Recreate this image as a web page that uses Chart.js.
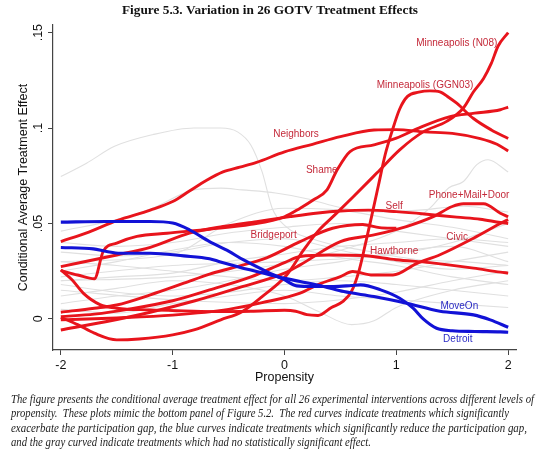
<!DOCTYPE html>
<html>
<head>
<meta charset="utf-8">
<script src="https://cdn.jsdelivr.net/npm/chart.js@4.4.1/dist/chart.umd.min.js"></script>
<style>
  html, body { margin: 0; padding: 0; background: #fff; }
  #wrap { width: 540px; height: 457px; }
</style>
</head>
<body>
<div id="wrap"><canvas id="gotvChart" width="540" height="457"></canvas></div>
<script>
// [propensity, treatment effect] pairs
const neighbors = [[-2, 0.0405], [-1.75, 0.0455], [-1.5, 0.0515], [-1.2, 0.057], [-1, 0.0615], [-0.85, 0.067], [-0.7, 0.0725], [-0.55, 0.077], [-0.4, 0.0795], [-0.25, 0.082], [0, 0.0875], [0.25, 0.0915], [0.5, 0.0955], [0.8, 0.099], [1, 0.0992], [1.25, 0.098], [1.5, 0.0972], [1.75, 0.0945], [1.9, 0.0915], [2, 0.088]];
const shame = [[-2, 0.0253], [-1.85, 0.023], [-1.7, 0.021], [-1.62, 0.0355], [-1.5, 0.0397], [-1.32, 0.0432], [-1.05, 0.0449], [-0.67, 0.047], [-0.3, 0.0495], [0, 0.0535], [0.14, 0.058], [0.26, 0.0624], [0.38, 0.0676], [0.47, 0.078], [0.586, 0.0877], [0.8, 0.0912], [1, 0.0947], [1.2, 0.1], [1.48, 0.106], [1.7, 0.1078], [1.93, 0.1096], [2, 0.111]];
const self = [[-2, 0.0274], [-1.5, 0.0335], [-1.2, 0.0375], [-0.85, 0.0449], [-0.55, 0.0484], [-0.25, 0.051], [0.05, 0.0536], [0.3, 0.0555], [0.5, 0.0565], [0.75, 0.057], [1, 0.0562], [1.25, 0.055], [1.54, 0.0533], [1.75, 0.0522], [1.93, 0.0505], [2, 0.05]];
const minneapolisGGN03 = [[-2, 0.0257], [-1.9, 0.0205], [-1.8, 0.0135], [-1.65, 0.0075], [-1.5, 0.0056], [-1.2, 0.0047], [-0.9, 0.0042], [-0.6, 0.0038], [-0.3, 0.004], [0, 0.0045], [0.1, 0.004], [0.2, 0.0022], [0.3, 0.0018], [0.42, 0.006], [0.52, 0.009], [0.6, 0.0145], [0.67, 0.026], [0.73, 0.041], [0.78, 0.054], [0.84, 0.07], [0.9, 0.086], [0.96, 0.098], [1.03, 0.11], [1.1, 0.1166], [1.2, 0.1188], [1.3, 0.1195], [1.39, 0.119], [1.47, 0.116], [1.54, 0.113], [1.69, 0.105], [1.85, 0.099], [2, 0.0945]];
const minneapolisN08 = [[-2, 0.0008], [-1.85, -0.003], [-1.7, -0.0075], [-1.5, -0.011], [-1.3, -0.0105], [-1, -0.0084], [-0.81, -0.0058], [-0.57, -0.0005], [-0.38, 0.0038], [-0.2, 0.0117], [0.02, 0.023], [0.17, 0.036], [0.3, 0.046], [0.45, 0.0545], [0.615, 0.064], [0.825, 0.0764], [1.03, 0.0886], [1.24, 0.098], [1.45, 0.1035], [1.6, 0.1105], [1.69, 0.119], [1.78, 0.126], [1.85, 0.134], [1.91, 0.143], [2, 0.15]];
const bridgeport = [[-2, 0.0035], [-1.7, 0.0056], [-1.5, 0.0073], [-1.2, 0.0126], [-0.9, 0.0187], [-0.67, 0.0235], [-0.45, 0.027], [-0.16, 0.032], [0.14, 0.0405], [0.43, 0.0475], [0.7, 0.0495], [0.85, 0.0478], [1, 0.0475]];
const hawthorne = [[-2, 0.0012], [-1.7, 0.0025], [-1.4, 0.005], [-1, 0.0095], [-0.67, 0.0152], [-0.3, 0.022], [0, 0.0295], [0.14, 0.0327], [0.4, 0.0335], [0.7, 0.0332], [1, 0.031], [1.3, 0.0295], [1.69, 0.0266], [1.93, 0.0245], [2, 0.024]];
const phoneMailDoor = [[-2, -0.0058], [-1.6, -0.0015], [-1.2, 0.0035], [-0.8, 0.0095], [-0.4, 0.0165], [0, 0.024], [0.14, 0.0283], [0.5, 0.0405], [0.8, 0.044], [1.09, 0.0484], [1.33, 0.0536], [1.5, 0.0589], [1.6, 0.0603], [1.78, 0.0603], [1.93, 0.0554], [2, 0.0535]];
const civic = [[-2, -0.0005], [-1.5, 0.0005], [-1, 0.002], [-0.5, 0.005], [-0.2, 0.0085], [0.14, 0.0135], [0.3, 0.018], [0.5, 0.0222], [0.61, 0.0248], [0.79, 0.023], [0.97, 0.023], [1.18, 0.029], [1.39, 0.0336], [1.69, 0.0423], [1.93, 0.05], [2, 0.052]];

const detroit = [[-2, 0.0507], [-1.6, 0.051], [-1.2, 0.051], [-1, 0.0502], [-0.85, 0.0467], [-0.67, 0.0405], [-0.5, 0.0355], [-0.37, 0.031], [-0.16, 0.0248], [-0.01, 0.0208], [0.11, 0.0173], [0.26, 0.017], [0.44, 0.017], [0.6, 0.0175], [0.68, 0.0178], [0.86, 0.0152], [1.03, 0.0108], [1.15, 0.0056], [1.24, 0], [1.36, -0.0049], [1.5, -0.0062], [1.7, -0.0066], [1.93, -0.0068], [2, -0.007]];
const moveOn = [[-2, 0.0374], [-1.71, 0.0367], [-1.59, 0.0353], [-1.47, 0.0344], [-1.2, 0.0344], [-0.9, 0.033], [-0.67, 0.0315], [-0.58, 0.03], [-0.31, 0.0257], [-0.07, 0.0222], [0.14, 0.0196], [0.35, 0.017], [0.53, 0.0143], [0.8, 0.0117], [1.09, 0.0082], [1.39, 0.004], [1.69, 0.0021], [1.84, -0.0005], [2, -0.0044]];

// the 15 treatments with no significant effect (faint gray)
const grayCurves = [
    [[-2, 0.0746], [-1.77, 0.0816], [-1.52, 0.0904], [-1.18, 0.0965], [-0.81, 0.1], [-0.57, 0.1], [-0.42, 0.098], [-0.3, 0.091], [-0.2, 0.077], [-0.11, 0.058], [0, 0.049], [0.3, 0.041], [0.7, 0.036], [1.2, 0.031], [1.6, 0.03], [2, 0.028]],
    [[-2, 0.046], [-1.5, 0.052], [-1.18, 0.058], [-0.81, 0.0676], [-0.57, 0.0685], [-0.38, 0.0676], [-0.08, 0.066], [0.2, 0.063], [0.45, 0.059], [0.8, 0.056], [1.2, 0.057], [1.6, 0.059], [2, 0.056]],
    [[-2, 0.02], [-1, 0.022], [0, 0.029], [0.5, 0.036], [1, 0.046], [1.3, 0.058], [1.47, 0.0687], [1.6, 0.072], [1.72, 0.0808], [1.82, 0.0834], [2, 0.077]],
    [[-2, 0.03], [-1.5, 0.028], [-1, 0.025], [-0.5, 0.022], [0, 0.02], [0.5, 0.022], [1, 0.025], [1.5, 0.03], [2, 0.035]],
    [[-2, 0.02], [-1.5, 0.022], [-1, 0.024], [-0.5, 0.03], [0, 0.034], [0.5, 0.038], [1, 0.04], [1.5, 0.042], [2, 0.04]],
    [[-2, 0.012], [-1.5, 0.016], [-1, 0.02], [-0.5, 0.018], [0, 0.012], [0.3, 0.004], [0.6, -0.003], [0.8, -0.001], [1, 0.006], [1.5, 0.015], [2, 0.02]],
    [[-2, 0.035], [-1.5, 0.033], [-1, 0.035], [-0.5, 0.04], [0, 0.042], [0.5, 0.036], [1, 0.03], [1.5, 0.026], [2, 0.028]],
    [[-2, 0.008], [-1.5, 0.012], [-1, 0.015], [-0.5, 0.02], [0, 0.026], [0.5, 0.03], [1, 0.035], [1.5, 0.038], [2, 0.03]],
    [[-2, 0.018], [-1.5, 0.014], [-1, 0.012], [-0.5, 0.014], [0, 0.018], [0.5, 0.02], [1, 0.018], [1.5, 0.015], [2, 0.012]],
    [[-2, 0.04], [-1.5, 0.038], [-1, 0.04], [-0.5, 0.045], [0, 0.048], [0.5, 0.05], [1, 0.046], [1.5, 0.042], [2, 0.038]],
    [[-2, 0.025], [-1.5, 0.03], [-1, 0.036], [-0.5, 0.04], [0, 0.038], [0.5, 0.032], [1, 0.028], [1.5, 0.022], [2, 0.018]],
    [[-2, 0.005], [-1.5, 0.003], [-1, 0.008], [-0.5, 0.012], [0, 0.015], [0.5, 0.012], [1, 0.01], [1.5, 0.008], [2, 0.006]],
    [[-2, 0.03], [-1, 0.034], [-0.5, 0.05], [0, 0.058], [0.5, 0.057], [1, 0.052], [1.5, 0.048], [2, 0.042]],
    [[-2, 0.022], [-1, 0.028], [0, 0.03], [1, 0.034], [1.5, 0.04], [2, 0.05]],
    [[-2, 0.015], [-1, 0.01], [0, 0.008], [0.5, 0.01], [1, 0.014], [1.5, 0.02], [2, 0.025]]
];

const redCurves = [neighbors, shame, self, minneapolisGGN03, minneapolisN08, bridgeport, hawthorne, phoneMailDoor, civic];
const blueCurves = [detroit, moveOn];

const xTicks = [-2, -1, 0, 1, 2];
const yTicks = [0, 0.05, 0.1, 0.15];
const yTickLabels = ['0', '.05', '.1', '.15'];

// label text, propensity, effect, colour group
const curveLabels = [
    ['Minneapolis (N08)', 1.54, 0.1442, 'red'],
    ['Minneapolis (GGN03)', 1.257, 0.1224, 'red'],
    ['Neighbors', 0.103, 0.0969, 'red'],
    ['Shame', 0.333, 0.0781, 'red'],
    ['Phone+Mail+Door', 1.65, 0.0649, 'red'],
    ['Self', 0.98, 0.0588, 'red'],
    ['Bridgeport', -0.097, 0.0439, 'red'],
    ['Civic', 1.544, 0.043, 'red'],
    ['Hawthorne', 0.98, 0.0357, 'red'],
    ['MoveOn', 1.563, 0.0064, 'blue'],
    ['Detroit', 1.55, -0.0106, 'blue']
];

const chartTitle = 'Figure 5.3. Variation in 26 GOTV Treatment Effects';
const captionLines = [
    'The figure presents the conditional average treatment effect for all 26 experimental interventions across different levels of',
    'propensity.  These plots mimic the bottom panel of Figure 5.2.  The red curves indicate treatments which significantly',
    'exacerbate the participation gap, the blue curves indicate treatments which significantly reduce the participation gap,',
    'and the gray curved indicate treatments which had no statistically significant effect.'
];
const captionWidths = [523, 498, 516, 360];

const SANS = '"Liberation Sans", Arial, sans-serif';
const SERIF = '"Liberation Serif", "Times New Roman", serif';

function toPoints(pairs) {
    return pairs.map(([x, y]) => ({ x, y }));
}

function curveDataset(pairs, color, width, order) {
    return {
        data: toPoints(pairs),
        borderColor: color,
        borderWidth: width,
        pointRadius: 0,
        fill: false,
        cubicInterpolationMode: 'monotone',
        order: order
    };
}

const annotate = {
    id: 'annotate',
    afterDatasetsDraw(chart) {
        const { ctx, scales } = chart;
        ctx.save();
        ctx.font = '10px ' + SANS;
        ctx.textAlign = 'center';
        ctx.textBaseline = 'middle';
        curveLabels.forEach(([text, lx, ly, group]) => {
            ctx.fillStyle = group === 'blue' ? '#2b2bc4' : '#c42a3a';
            ctx.fillText(text, scales.x.getPixelForValue(lx), scales.y.getPixelForValue(ly));
        });
        ctx.restore();
    },
    afterDraw(chart) {
        const ctx = chart.ctx;
        ctx.save();
        ctx.fillStyle = '#111';
        ctx.textBaseline = 'middle';
        ctx.textAlign = 'center';
        ctx.font = 'bold 13.5px ' + SERIF;
        ctx.fillText(chartTitle, 270, 11, 296);

        ctx.textAlign = 'left';
        ctx.font = 'italic 12px ' + SERIF;
        ctx.fillStyle = '#222';
        captionLines.forEach((line, i) => {
            ctx.fillText(line, 11, 400 + i * 14.2, captionWidths[i]);
        });
        ctx.restore();
    }
};

const datasets = [];
grayCurves.forEach(c => datasets.push(curveDataset(c, '#e0e0e0', 1.1, 3)));
redCurves.forEach(c => datasets.push(curveDataset(c, '#e8141c', 2.9, 2)));
blueCurves.forEach(c => datasets.push(curveDataset(c, '#1212d6', 3.1, 1)));

const axisFont = { family: SANS, size: 12.5 };

new Chart(document.getElementById('gotvChart'), {
    type: 'line',
    data: { datasets: datasets },
    options: {
        responsive: false,
        animation: false,
        layout: { padding: { top: 25, right: 24, bottom: 72, left: 0 } },
        plugins: {
            legend: { display: false },
            tooltip: { enabled: false },
            title: { display: false }
        },
        scales: {
            x: {
                type: 'linear',
                min: -2.07,
                max: 2.07,
                afterBuildTicks: s => { s.ticks = xTicks.map(v => ({ value: v })); },
                afterFit: s => { s.height = 35; },
                grid: { drawOnChartArea: false, drawTicks: true, tickLength: 5, color: '#444' },
                border: { display: true, color: '#444', width: 1.2 },
                ticks: { padding: 3, color: '#111', font: axisFont, maxRotation: 0, callback: v => String(v) },
                title: { display: true, text: 'Propensity', color: '#111', font: axisFont, padding: { top: 0, bottom: 0 } }
            },
            y: {
                type: 'linear',
                min: -0.0163,
                max: 0.154,
                afterBuildTicks: s => { s.ticks = yTicks.map(v => ({ value: v })); },
                afterFit: s => { s.width = 53; },
                grid: { drawOnChartArea: false, drawTicks: true, tickLength: 5, color: '#444' },
                border: { display: true, color: '#444', width: 1.2 },
                ticks: {
                    padding: 1,
                    minRotation: 90,
                    maxRotation: 90,
                    crossAlign: 'center',
                    color: '#111',
                    font: axisFont,
                    callback: v => yTickLabels[yTicks.indexOf(v)] ?? ''
                },
                title: { display: true, text: 'Conditional Average Treatment Effect', color: '#111', font: axisFont, padding: { top: 16, bottom: 0 } }
            }
        }
    },
    plugins: [annotate]
});
</script>
</body>
</html>
